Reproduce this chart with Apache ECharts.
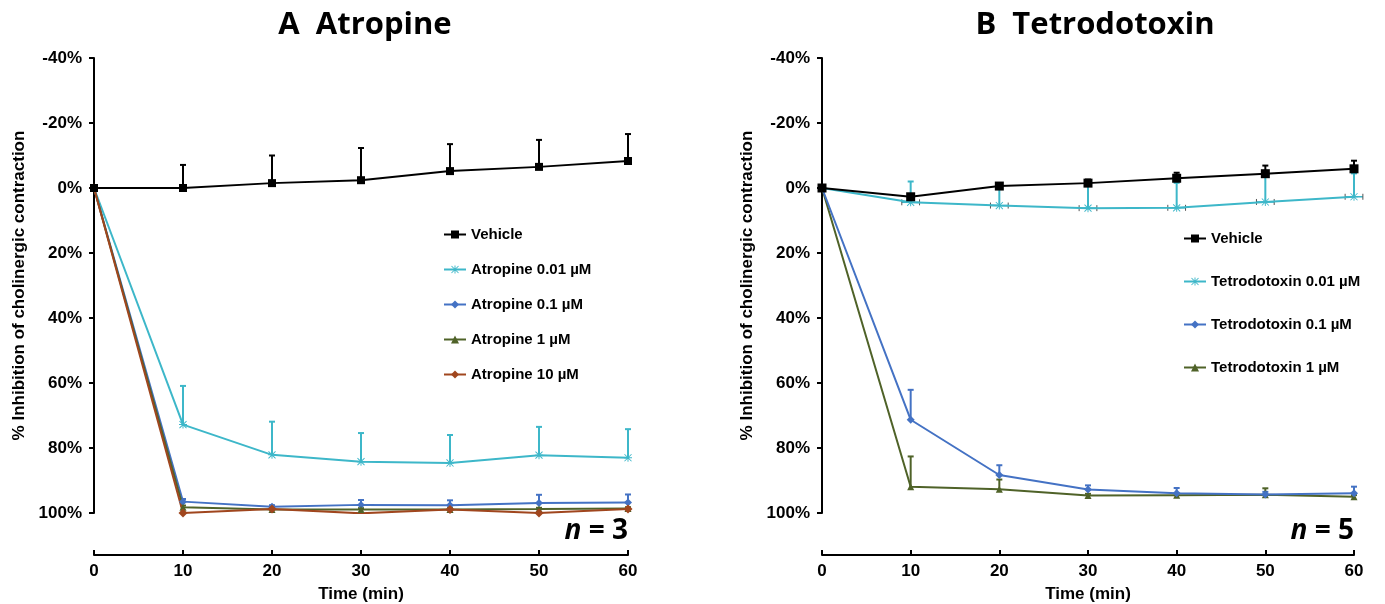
<!DOCTYPE html>
<html>
<head>
<meta charset="utf-8">
<script src="https://cdn.jsdelivr.net/npm/echarts@6/dist/echarts.min.js"></script>
<style>
  html, body { margin: 0; padding: 0; background: #fff; }
  #chart { width: 1385px; height: 604px; }
</style>
</head>
<body>
<div id="chart"></div>
<script>
// time points (min)
var times = [0, 10, 20, 30, 40, 50, 60];
var yTicks = [-40, -20, 0, 20, 40, 60, 80, 100];

// panel A - atropine (% inhibition, mean and upper error)
var aVehicle = [0, 0, -1.5, -2.4, -5.2, -6.5, -8.3];
var aVehicleErr = [0, 7.1, 8.5, 9.9, 8.3, 8.3, 8.3];
var aAtr001 = [0, 72.8, 82.1, 84.2, 84.6, 82.2, 83.0];
var aAtr001Err = [0, 11.9, 10.2, 8.8, 8.6, 8.7, 8.8];
var aAtr01 = [0, 96.5, 98.1, 97.5, 97.6, 96.9, 96.8];
var aAtr01Err = [0, 0.8, 0.5, 1.5, 1.5, 2.5, 2.5];
var aAtr1 = [0, 98.2, 98.9, 98.9, 98.9, 98.8, 98.6];
var aAtr1Err = [0, 0.5, 0.4, 0.4, 0.4, 0.4, 0.4];
var aAtr10 = [0, 100, 98.8, 100.1, 98.9, 100, 98.8];

// panel B - tetrodotoxin
var bVehicle = [0, 2.7, -0.6, -1.5, -3.0, -4.4, -5.9];
var bVehicleErr = [0, 0.8, 0.8, 1.1, 1.7, 2.5, 2.5];
var bTtx001 = [0, 4.4, 5.4, 6.2, 6.1, 4.3, 2.7];
var bTtx001Err = [0, 6.4, 6.2, 7.8, 7.7, 8.8, 7.2];
var bTtx01 = [0, 71.3, 88.3, 92.8, 93.9, 94.3, 93.9];
var bTtx01Err = [0, 9.2, 3.0, 1.3, 1.6, 0.8, 2.0];
var bTtx1 = [0, 91.9, 92.7, 94.6, 94.5, 94.4, 95.0];
var bTtx1Err = [0, 9.3, 3.0, 0.5, 0.5, 2.0, 0.5];

var cBlack = "#000000";
var cCyan = "#3db7c9";
var cBlue = "#4472c4";
var cGreen = "#4f6228";
var cBrown = "#a0461e";

var asterisk = "path://M4.4,0h1.2v10h-1.2z M0,4.4h10v1.2h-10z M1,0.2L9.8,9 9,9.8 0.2,1z M9,0.2L9.8,1 1,9.8 0.2,9z";

var font = "Liberation Sans";

function pairs(ys) {
  return times.map(function (t, i) { return [t, ys[i]]; });
}

function lineSeries(name, ys, color, symbol, size, idx) {
  return {
    name: name,
    type: "line",
    xAxisIndex: idx,
    yAxisIndex: idx,
    data: pairs(ys),
    symbol: symbol,
    symbolSize: size,
    showSymbol: true,
    lineStyle: { color: color, width: 2 },
    itemStyle: { color: color },
    z: 3
  };
}

// error bar pointing up (towards smaller %), optional horizontal bar
function errSeries(ys, errs, color, idx, xErr) {
  var data = times.map(function (t, i) { return [t, ys[i], errs[i]]; });
  return {
    type: "custom",
    xAxisIndex: idx,
    yAxisIndex: idx,
    silent: true,
    z: 2,
    data: data,
    renderItem: function (params, api) {
      var x = api.value(0), y = api.value(1), e = api.value(2);
      var p0 = api.coord([x, y]);
      var p1 = api.coord([x, y - e]);
      var children = [];
      if (e > 0) {
        children.push({ type: "line", shape: { x1: p0[0], y1: p0[1], x2: p1[0], y2: p1[1] }, style: { stroke: color, lineWidth: 2 } });
        children.push({ type: "line", shape: { x1: p1[0] - 3, y1: p1[1], x2: p1[0] + 3, y2: p1[1] }, style: { stroke: color, lineWidth: 2 } });
      }
      if (xErr && x > 0) {
        var l = api.coord([x - xErr, y]);
        var r = api.coord([x + xErr, y]);
        children.push({ type: "line", shape: { x1: l[0], y1: l[1], x2: r[0], y2: r[1] }, style: { stroke: color, lineWidth: 1.5 } });
        children.push({ type: "line", shape: { x1: l[0], y1: l[1] - 3, x2: l[0], y2: l[1] + 3 }, style: { stroke: "#555", lineWidth: 1 } });
        children.push({ type: "line", shape: { x1: r[0], y1: r[1] - 3, x2: r[0], y2: r[1] + 3 }, style: { stroke: "#555", lineWidth: 1 } });
      }
      return { type: "group", children: children };
    }
  };
}

function xAxisCfg(idx) {
  return {
    gridIndex: idx,
    type: "value",
    min: 0,
    max: 60,
    interval: 10,
    offset: 42,
    name: "Time (min)",
    nameLocation: "middle",
    nameGap: 31,
    nameTextStyle: { fontFamily: font, fontWeight: "bold", fontSize: 17, color: "#000" },
    axisLine: { show: true, onZero: false, lineStyle: { color: "#000", width: 2 } },
    axisTick: { show: true, inside: true, length: 5, lineStyle: { color: "#000", width: 2 } },
    axisLabel: { fontFamily: font, fontWeight: "bold", fontSize: 17, color: "#000", margin: 8 },
    splitLine: { show: false }
  };
}

function yAxisCfg(idx) {
  return {
    gridIndex: idx,
    type: "value",
    inverse: true,
    min: -40,
    max: 100,
    interval: 20,
    name: "% Inhibition of cholinergic contraction",
    nameLocation: "middle",
    nameGap: 66,
    nameTextStyle: { fontFamily: font, fontWeight: "bold", fontSize: 17, color: "#000" },
    axisLine: { show: true, onZero: false, lineStyle: { color: "#000", width: 2 } },
    axisTick: { show: true, length: 5, lineStyle: { color: "#000", width: 2 } },
    axisLabel: {
      fontFamily: font, fontWeight: "bold", fontSize: 17, color: "#000", margin: 12,
      formatter: function (v) { return yTicks.indexOf(v) >= 0 ? v + "%" : ""; }
    },
    splitLine: { show: false }
  };
}

var legendText = { fontFamily: font, fontWeight: "bold", fontSize: 15, color: "#000" };
var nRich = { i: { fontStyle: "italic", fontWeight: "bold", fontSize: 28, fontFamily: "Open Sans" } };

var option = {
  backgroundColor: "#fff",
  animation: false,
  title: [
    { text: "A  Atropine", left: 360, top: 5, textAlign: "center",
      textStyle: { fontFamily: "Open Sans", fontWeight: "bold", fontSize: 31, color: "#000" } },
    { text: "B  Tetrodotoxin", left: 1090, top: 5, textAlign: "center",
      textStyle: { fontFamily: "Open Sans", fontWeight: "bold", fontSize: 31, color: "#000" } }
  ],
  grid: [
    { left: 94, right: 757, top: 58, bottom: 91, containLabel: false, outerBoundsMode: "none" },
    { left: 822, right: 31, top: 58, bottom: 91, containLabel: false, outerBoundsMode: "none" }
  ],
  legend: [
    {
      orient: "vertical", left: 438, top: 222, itemGap: 20, itemWidth: 22, itemHeight: 10,
      textStyle: legendText,
      data: ["Vehicle", "Atropine 0.01 µM", "Atropine 0.1 µM", "Atropine 1 µM", "Atropine 10 µM"]
    },
    {
      orient: "vertical", left: 1178, top: 226, itemGap: 28, itemWidth: 22, itemHeight: 10,
      textStyle: legendText,
      data: ["Vehicle", "Tetrodotoxin 0.01 µM", "Tetrodotoxin 0.1 µM", "Tetrodotoxin 1 µM"]
    }
  ],
  xAxis: [xAxisCfg(0), xAxisCfg(1)],
  yAxis: [yAxisCfg(0), yAxisCfg(1)],
  graphic: [
    { type: "text", right: 757, top: 517,
      style: { text: "{i|n} = 3", rich: nRich, fontFamily: "Open Sans", fontWeight: "bold", fontSize: 28, fill: "#000" } },
    { type: "text", right: 31, top: 517,
      style: { text: "{i|n} = 5", rich: nRich, fontFamily: "Open Sans", fontWeight: "bold", fontSize: 28, fill: "#000" } }
  ],
  series: [
    errSeries(aVehicle, aVehicleErr, cBlack, 0),
    errSeries(aAtr001, aAtr001Err, cCyan, 0),
    errSeries(aAtr01, aAtr01Err, cBlue, 0),
    errSeries(aAtr1, aAtr1Err, cGreen, 0),
    lineSeries("Atropine 0.01 µM", aAtr001, cCyan, asterisk, 8, 0),
    lineSeries("Atropine 0.1 µM", aAtr01, cBlue, "diamond", 8, 0),
    lineSeries("Atropine 1 µM", aAtr1, cGreen, "triangle", 7, 0),
    lineSeries("Atropine 10 µM", aAtr10, cBrown, "diamond", 9, 0),
    lineSeries("Vehicle", aVehicle, cBlack, "rect", 8, 0),

    errSeries(bVehicle, bVehicleErr, cBlack, 1),
    errSeries(bTtx001, bTtx001Err, cCyan, 1, 1),
    errSeries(bTtx01, bTtx01Err, cBlue, 1),
    errSeries(bTtx1, bTtx1Err, cGreen, 1),
    lineSeries("Tetrodotoxin 1 µM", bTtx1, cGreen, "triangle", 7, 1),
    lineSeries("Tetrodotoxin 0.1 µM", bTtx01, cBlue, "diamond", 8, 1),
    lineSeries("Tetrodotoxin 0.01 µM", bTtx001, cCyan, asterisk, 8, 1),
    lineSeries("Vehicle", bVehicle, cBlack, "rect", 9, 1)
  ]
};

var myChart = echarts.init(document.getElementById("chart"));
myChart.setOption(option);
</script>
</body>
</html>
